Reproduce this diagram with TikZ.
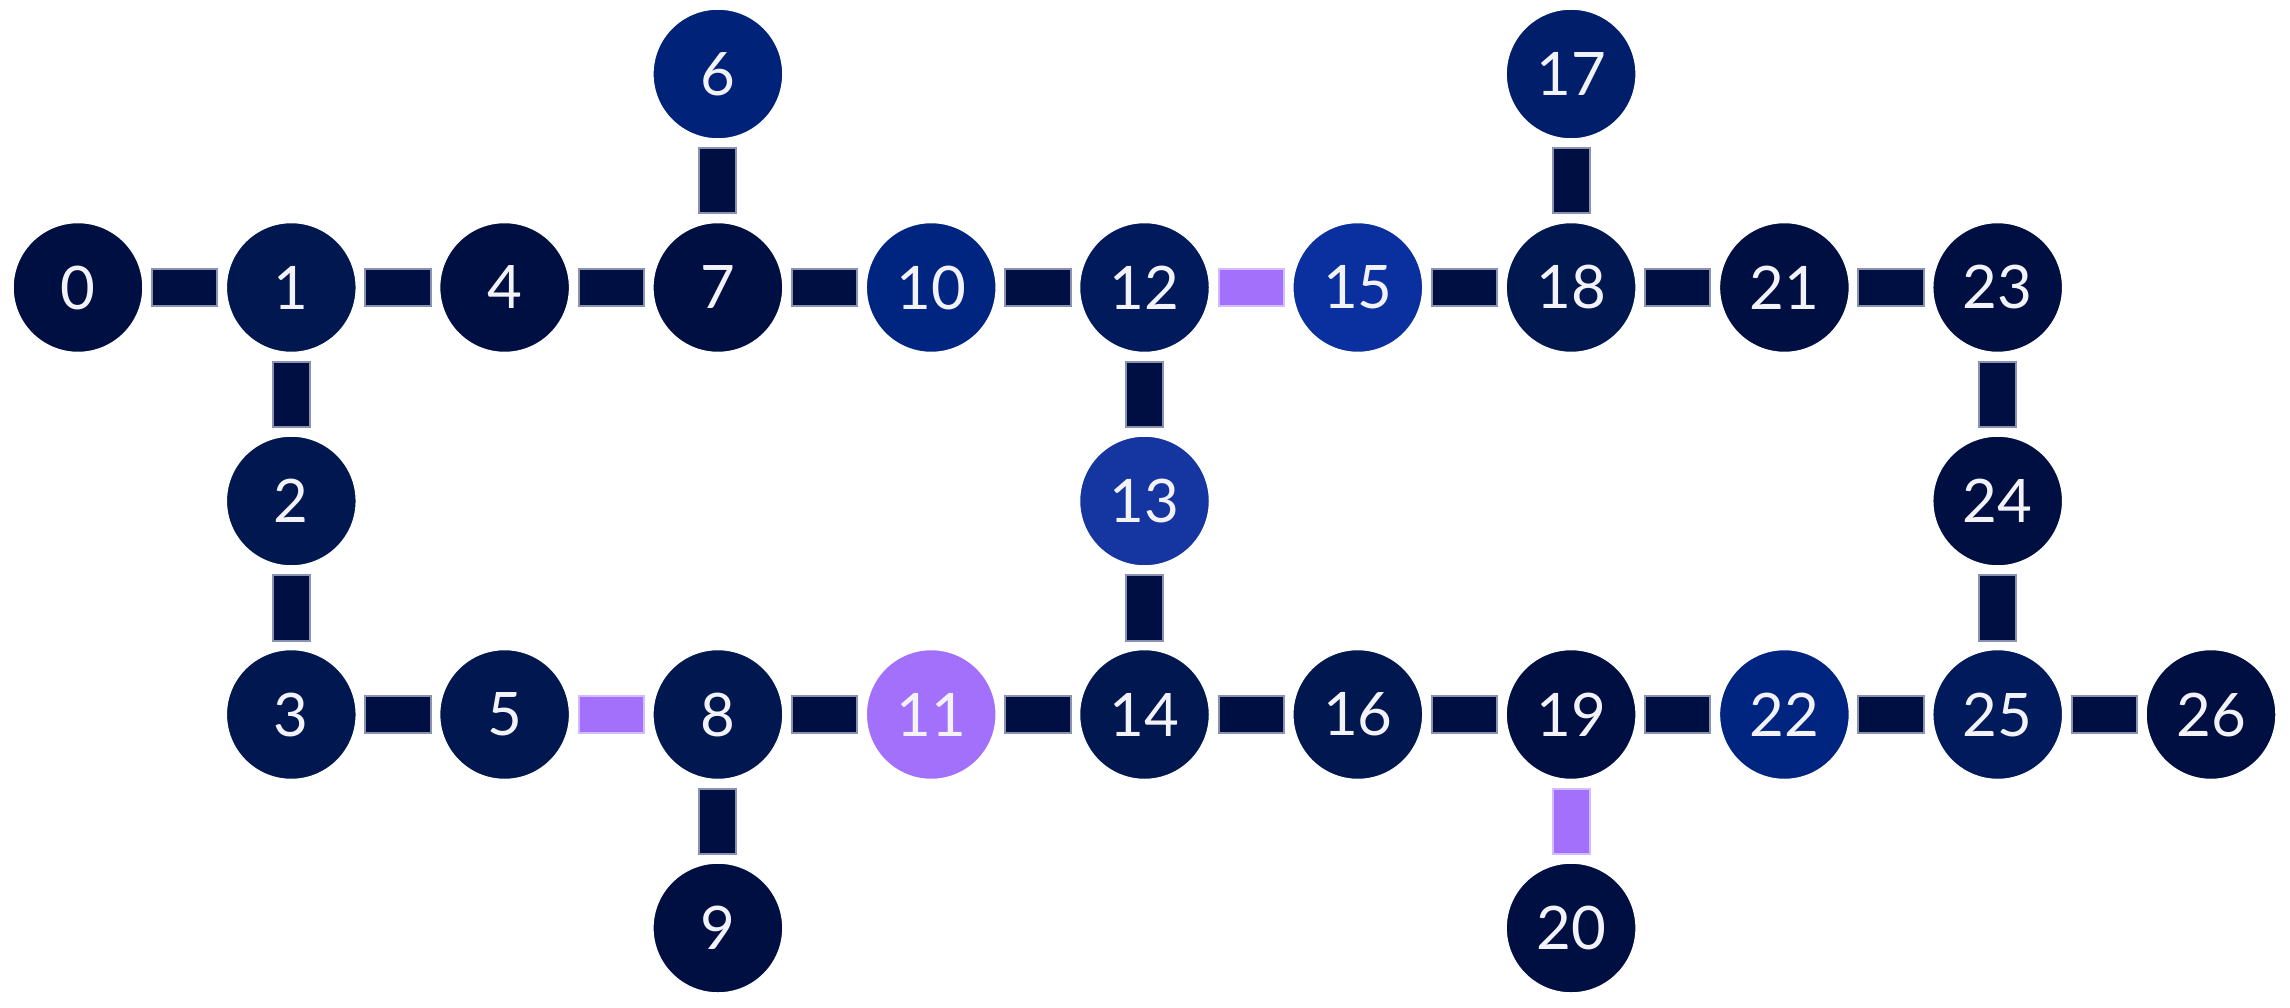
\documentclass[tikz,border=0pt]{standalone}
\usepackage{fontspec}
\setmainfont{Lato}[Numbers=Lining]
\definecolor{cdark}{HTML}{000F42}
\definecolor{cmid}{HTML}{00174F}
\definecolor{cmidb}{HTML}{001A5C}
\definecolor{cseven}{HTML}{001E6A}
\definecolor{csix}{HTML}{002278}
\definecolor{cten}{HTML}{002580}
\definecolor{cfift}{HTML}{0A30A0}
\definecolor{cthirt}{HTML}{1535A0}
\definecolor{cpurp}{HTML}{A370FC}
\definecolor{edgeout}{HTML}{8A92B0}
\definecolor{purpout}{HTML}{D2BCFF}
\definecolor{txt}{HTML}{F2F2F8}
\tikzset{
  qubit/.style={circle, minimum size=130pt, inner sep=0pt, outer sep=0pt,
    draw=white, line width=1.5pt, text=txt, font=\fontsize{60}{72}\selectfont},
  edgeo/.style={line width=39pt, shorten <=8pt, shorten >=8pt},
  edgei/.style={line width=35pt, shorten <=10pt, shorten >=10pt},
}
\begin{document}
\begin{tikzpicture}[x=1pt,y=-1pt]
\useasboundingbox (0,0) rectangle (2290,1008);
\foreach \n/\cx/\cy/\col in {
  0/0/1/cdark, 1/1/1/cmid, 2/1/2/cmid, 3/1/3/cmid, 4/2/1/cdark, 5/2/3/cmid,
  6/3/0/csix, 7/3/1/cdark, 8/3/3/cmid, 9/3/4/cdark, 10/4/1/cten, 11/4/3/cpurp,
  12/5/1/cmidb, 13/5/2/cthirt, 14/5/3/cmid, 15/6/1/cfift, 16/6/3/cmid,
  17/7/0/cseven, 18/7/1/cmid, 19/7/3/cdark, 20/7/4/cdark, 21/8/1/cdark,
  22/8/3/cten, 23/9/1/cdark, 24/9/2/cdark, 25/9/3/cmidb, 26/10/3/cdark}
  \node[qubit, fill=\col] (q\n) at ({78+213.3*\cx},{74+213.5*\cy}) {\n};
\foreach \a/\b/\fc/\oc in {
  0/1/cdark/edgeout, 1/4/cdark/edgeout, 4/7/cdark/edgeout, 7/10/cdark/edgeout,
  10/12/cdark/edgeout, 12/15/cpurp/purpout, 15/18/cdark/edgeout,
  18/21/cdark/edgeout, 21/23/cdark/edgeout, 1/2/cdark/edgeout,
  2/3/cdark/edgeout, 6/7/cdark/edgeout, 17/18/cdark/edgeout,
  12/13/cdark/edgeout, 13/14/cdark/edgeout, 23/24/cdark/edgeout,
  24/25/cdark/edgeout, 3/5/cdark/edgeout, 5/8/cpurp/purpout,
  8/11/cdark/edgeout, 11/14/cdark/edgeout, 14/16/cdark/edgeout,
  16/19/cdark/edgeout, 19/22/cdark/edgeout, 22/25/cdark/edgeout,
  25/26/cdark/edgeout, 8/9/cdark/edgeout, 19/20/cpurp/purpout}
{
  \draw[edgeo, draw=\oc] (q\a) -- (q\b);
  \draw[edgei, draw=\fc] (q\a) -- (q\b);
}
\end{tikzpicture}
\end{document}
